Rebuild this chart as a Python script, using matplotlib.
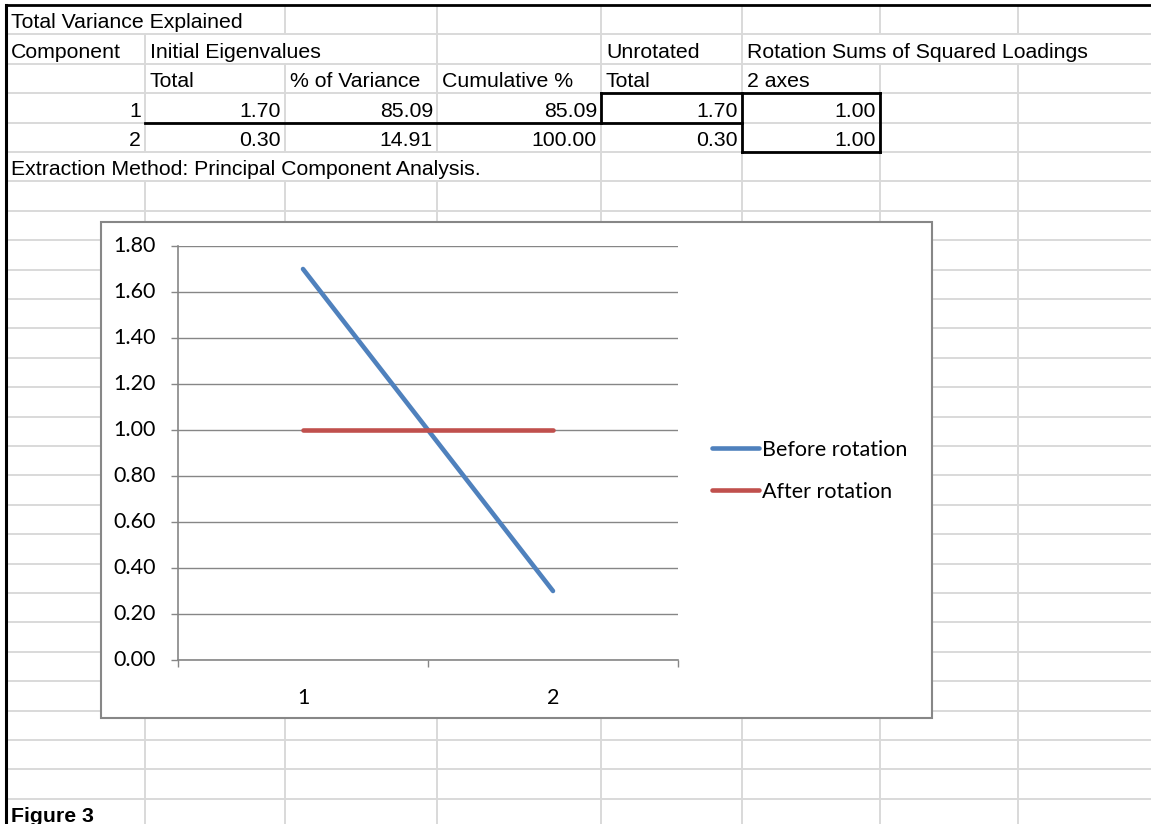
import numpy as np
import matplotlib
matplotlib.use("Agg")
import matplotlib.pyplot as plt
from matplotlib.patches import Rectangle

# data
components = [1, 2]
initial_total = [1.70, 0.30]
pct_variance = [85.09, 14.91]
cumulative = [85.09, 100.00]
unrotated_total = [1.70, 0.30]
rotated_total = [1.00, 1.00]
before_rotation = [1.70, 0.30]
after_rotation = [1.00, 1.00]
yticks = [0.0, 0.2, 0.4, 0.6, 0.8, 1.0, 1.2, 1.4, 1.6, 1.8]

W, H = 1151, 824
fig = plt.figure(figsize=(W / 100, H / 100), dpi=100)
fig.patch.set_facecolor('white')

# sheet background in pixel coords
bg = fig.add_axes([0, 0, 1, 1])
bg.set_xlim(0, W)
bg.set_ylim(H, 0)
bg.axis('off')

cols = [6, 145, 285, 437, 601, 742, 880, 1018, 1160]
row_h = 29.4
top = 5
nrows = 28
rows = [top + row_h * k for k in range(nrows + 1)]
grid_c = '#d9d9d9'
cell_font = 'Liberation Sans'
fs = 15.3

# vertical segments hidden by overflowing text: (row, x)
hidden = {(0, 145), (1, 285), (1, 880), (1, 1018), (5, 145), (5, 285), (5, 437)}

for y in rows[1:]:
    bg.plot([cols[0], W], [y, y], color=grid_c, lw=1.4, zorder=1)
for x in cols[1:-1]:
    for r in range(nrows):
        if (r, x) in hidden:
            continue
        bg.plot([x, x], [rows[r], rows[r + 1]], color=grid_c, lw=1.4, zorder=1,
                solid_capstyle='butt')

# outer black border
bg.plot([cols[0], W], [top, top], color='black', lw=2, zorder=3)
bg.plot([cols[0], cols[0]], [top, H], color='black', lw=2.2, zorder=3)


def cell(r, c, s, align='left', weight='normal'):
    y = rows[r + 1] - 6
    if align == 'left':
        x = cols[c] + 5
    else:
        x = cols[c + 1] - 4
    bg.text(x, y, s, ha=align, va='baseline', fontsize=fs, family=cell_font,
            fontweight=weight, zorder=4)


cell(0, 0, 'Total Variance Explained')
cell(1, 0, 'Component')
cell(1, 1, 'Initial Eigenvalues')
cell(1, 4, 'Unrotated')
cell(1, 5, 'Rotation Sums of Squared Loadings')
cell(2, 1, 'Total')
cell(2, 2, '% of Variance')
cell(2, 3, 'Cumulative %')
cell(2, 4, 'Total')
cell(2, 5, '2 axes')
for i in range(len(components)):
    r = 3 + i
    cell(r, 0, str(components[i]), 'right')
    cell(r, 1, f'{initial_total[i]:.2f}', 'right')
    cell(r, 2, f'{pct_variance[i]:.2f}', 'right')
    cell(r, 3, f'{cumulative[i]:.2f}', 'right')
    cell(r, 4, f'{unrotated_total[i]:.2f}', 'right')
    cell(r, 5, f'{rotated_total[i]:.2f}', 'right')
cell(5, 0, 'Extraction Method: Principal Component Analysis.')
cell(27, 0, 'Figure 3', weight='bold')

# black cell borders
k = dict(color='black', lw=2, zorder=3, solid_capstyle='projecting')
bg.plot([cols[1], cols[5]], [rows[4], rows[4]], **k)
bg.plot([cols[4], cols[6]], [rows[3], rows[3]], **k)
bg.plot([cols[4], cols[4]], [rows[3], rows[4]], **k)
bg.plot([cols[5], cols[5]], [rows[3], rows[5]], **k)
bg.plot([cols[6], cols[6]], [rows[3], rows[5]], **k)
bg.plot([cols[5], cols[6]], [rows[5], rows[5]], **k)

# chart box
bg.add_patch(Rectangle((101, 222), 932 - 101, 718 - 222, facecolor='white',
                       edgecolor='#878787', lw=1.5, zorder=5))

# chart
L, R, T, B = 178, 678, 246, 660
ax = fig.add_axes([L / W, (H - B) / H, (R - L) / W, (B - T) / H])
ax.set_zorder(6)
ax.patch.set_alpha(0)
axc = '#868686'
chart_font = 'Lato'
cfs = 15.5

ax.plot(components, before_rotation, color='#4f81bd', lw=3.3,
        solid_capstyle='round', label='Before rotation', zorder=3)
ax.plot(components, after_rotation, color='#c0504d', lw=3.3,
        solid_capstyle='round', label='After rotation', zorder=3)

ax.set_ylim(0, 1.8)
ax.set_xlim(0.5, 2.5)
ax.set_yticks(yticks)
ax.set_yticklabels([f'{v:.2f}' for v in yticks], family=chart_font, fontsize=cfs)
ax.set_xticks([0.5, 1.5, 2.5])
ax.set_xticklabels([])
ax.set_xticks(components, minor=True)
ax.set_xticklabels([str(c) for c in components], minor=True,
                   family=chart_font, fontsize=cfs)
ax.tick_params(axis='y', length=5, width=1, color=axc, pad=11)
ax.tick_params(axis='x', which='major', length=5, width=1, color=axc)
ax.tick_params(axis='x', which='minor', length=0, pad=20)
for t in ax.get_yticklabels():
    t.set_va('center')
ax.grid(axis='y', color=axc, lw=1)
ax.set_axisbelow(True)
for s in ['top', 'right']:
    ax.spines[s].set_visible(False)
for s in ['left', 'bottom']:
    ax.spines[s].set_color(axc)
    ax.spines[s].set_linewidth(1.2)

leg = ax.legend(loc='center left', bbox_to_anchor=(712, 471),
                bbox_transform=bg.transData, frameon=False,
                prop={'family': chart_font, 'size': cfs},
                handlelength=2.2, handletextpad=0.12, labelspacing=1.02,
                borderpad=0, borderaxespad=0)
for h in leg.get_lines():
    h.set_solid_capstyle('round')

fig.savefig('out.png', dpi=100)
